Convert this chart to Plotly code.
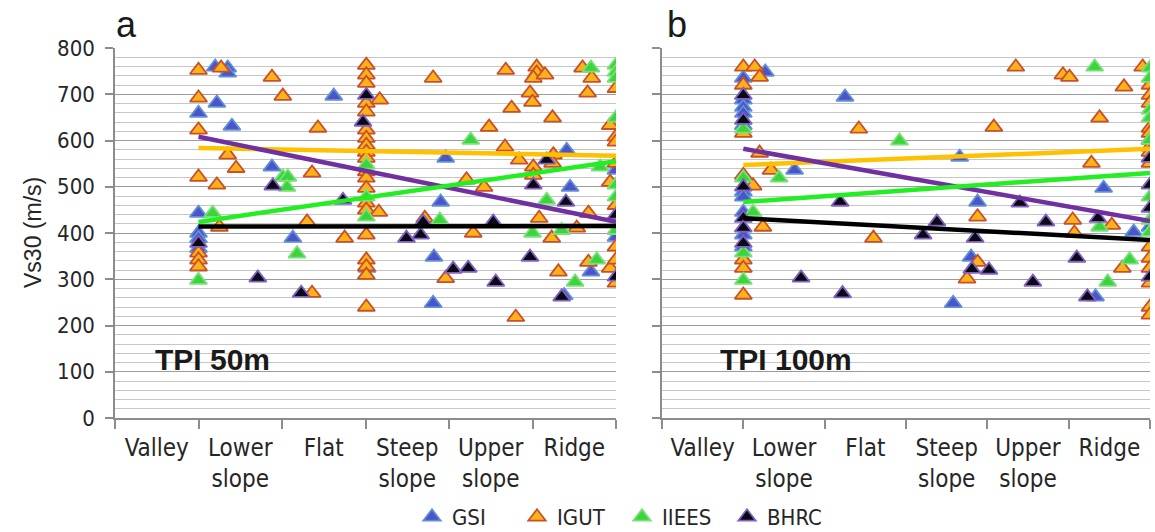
import plotly.graph_objects as go

# ---------------- data ----------------
series_names = ["GSI", "IGUT", "IIEES", "BHRC"]
categories = ["Valley", "Lower<br>slope", "Flat", "Steep<br>slope", "Upper<br>slope", "Ridge"]
category_pos = [0.5, 1.5, 2.5, 3.5, 4.5, 5.5]
y_ticks = [0, 100, 200, 300, 400, 500, 600, 700, 800]

a_gsi = [(1.2, 759), (1.35, 757), (1.35, 746), (1.22, 681), (1.0, 659), (1.40, 631), (1.88, 543),
         (1.0, 443), (2.13, 389), (1.0, 400), (1.0, 388), (1.0, 367), (2.62, 696), (3.96, 562),
         (3.90, 467), (3.82, 348), (3.81, 248), (3.02, 324), (5.41, 579), (5.45, 499), (6.0, 536),
         (6.0, 391), (5.70, 316), (5.38, 265)]
a_igut = [(1.0, 752), (1.27, 757), (1.88, 737), (1.0, 692), (2.01, 696), (1.0, 623), (1.35, 569),
          (1.45, 540), (1.0, 521), (1.22, 504), (1.25, 413), (1.0, 357), (1.0, 342), (1.0, 327),
          (2.36, 270), (2.43, 627), (2.36, 530), (2.30, 424), (2.75, 389),
          (3.01, 763), (3.01, 742), (3.01, 724), (3.01, 681), (3.01, 662), (3.01, 623), (3.01, 605),
          (3.01, 590), (3.01, 575), (3.01, 562), (3.01, 533), (3.01, 519), (3.01, 497), (3.01, 465),
          (3.01, 450), (3.01, 396), (3.01, 342), (3.01, 327), (3.01, 309), (3.01, 240),
          (3.17, 688), (3.81, 735), (3.16, 445), (3.71, 432), (3.96, 302), (4.29, 400), (4.80, 218),
          (5.31, 316), (5.67, 337), (5.93, 324),
          (4.68, 752), (5.05, 759), (5.05, 746), (5.01, 735), (5.15, 742), (5.60, 757), (5.71, 735),
          (6.0, 713), (4.97, 703), (5.0, 683), (5.66, 703), (4.75, 670), (5.24, 649), (5.93, 633),
          (6.0, 608), (6.0, 597), (4.67, 586), (4.84, 558), (5.25, 569), (5.24, 551), (5.01, 543),
          (6.0, 551), (5.01, 525), (5.93, 510), (6.0, 460), (5.67, 443), (5.08, 432), (5.23, 389),
          (5.53, 411), (6.0, 370), (6.0, 342), (6.0, 292), (4.48, 629), (4.21, 515), (4.42, 499)]
a_iiees = [(2.01, 521), (2.07, 521), (2.06, 499), (1.17, 443), (2.18, 355), (1.0, 298), (3.01, 547),
           (3.01, 478), (3.01, 435), (3.89, 428), (4.26, 601), (5.70, 757), (6.0, 763), (6.0, 748),
           (6.0, 735), (6.0, 649), (5.81, 543), (6.0, 504), (5.17, 471), (6.0, 478), (6.0, 406),
           (5.0, 400), (5.35, 406), (5.77, 342), (5.51, 294)]
a_bhrc = [(1.89, 502), (1.0, 378), (1.71, 303), (2.23, 270), (2.73, 471), (3.01, 698), (2.97, 640),
          (3.69, 424), (3.49, 389), (3.66, 396), (4.05, 322), (4.23, 324), (4.56, 294), (4.53, 424),
          (4.97, 348), (5.17, 558), (5.01, 504), (5.40, 467), (6.0, 439), (6.0, 305), (5.35, 262)]

b_gsi = [(1.27, 748), (1.0, 735), (1.0, 688), (1.0, 672), (1.0, 659), (1.0, 633), (1.0, 489),
         (1.0, 478), (1.0, 445), (1.0, 396), (1.0, 370), (1.63, 536), (2.25, 694), (3.66, 564),
         (3.88, 467), (3.80, 348), (3.58, 248), (5.43, 497), (5.80, 402), (5.33, 262), (6.0, 413)]
b_igut = [(1.0, 759), (1.14, 759), (1.2, 737), (1.0, 720), (1.0, 616), (1.2, 573), (1.34, 536),
          (1.0, 525), (1.12, 502), (1.24, 413), (1.0, 342), (1.0, 324), (1.0, 266), (2.42, 625),
          (2.60, 389), (3.88, 337), (3.75, 301), (3.88, 435), (4.35, 759), (4.93, 742), (5.01, 737),
          (5.68, 716), (5.91, 759), (4.08, 629), (5.38, 649), (5.28, 551), (5.05, 428), (5.53, 417),
          (5.07, 400), (5.66, 324), (6.0, 720), (6.0, 698), (6.0, 681), (6.0, 627), (6.0, 616),
          (6.0, 601), (6.0, 586), (6.0, 575), (6.0, 551), (6.0, 370), (6.0, 346), (6.0, 324),
          (6.0, 292), (6.0, 240), (6.0, 223)]
b_iiees = [(1.0, 625), (1.44, 519), (1.0, 519), (1.12, 445), (1.0, 357), (1.0, 298), (2.92, 599),
           (5.32, 759), (5.38, 413), (5.75, 342), (5.48, 294), (6.0, 757), (6.0, 735), (6.0, 666),
           (6.0, 649), (6.0, 601), (6.0, 478), (6.0, 428), (6.0, 402)]
b_bhrc = [(1.0, 698), (1.0, 644), (1.0, 500), (1.0, 432), (1.0, 411), (1.0, 378), (1.71, 303),
          (2.19, 467), (2.22, 269), (3.21, 396), (3.38, 424), (3.85, 389), (3.81, 322), (4.02, 320),
          (4.56, 294), (4.40, 465), (4.72, 424), (5.36, 432), (5.10, 346), (5.23, 262), (6.0, 562),
          (6.0, 504), (6.0, 454), (6.0, 305)]

trend_x = [1, 6]
trend_a_gsi = [608, 424]
trend_a_igut = [584, 567]
trend_a_iiees = [424, 555]
trend_a_bhrc = [414, 415]
trend_b_gsi = [582, 426]
trend_b_igut = [547, 582]
trend_b_iiees = [467, 530]
trend_b_bhrc = [432, 385]

panel_labels = ["a", "b"]
panel_titles = ["TPI 50m", "TPI 100m"]

# ---------------- styles ----------------
marker_fill = {"GSI": "#4B55C8", "IGUT": "#FDB21A", "IIEES": "#3CD43C", "BHRC": "#0A0A14"}
marker_edge = {"GSI": "#5F8FD8", "IGUT": "#C8502A", "IIEES": "#78E078", "BHRC": "#8060C0"}
trend_color = {"GSI": "#7030A0", "IGUT": "#FFC000", "IIEES": "#22EE22", "BHRC": "#000000"}

NARROW = "Liberation Sans Narrow, Arial Narrow, DejaVu Sans Condensed, sans-serif"
REG = "Liberation Sans, Arial, sans-serif"

fig = go.Figure()

panels = [
    ("x", "y", {"GSI": a_gsi, "IGUT": a_igut, "IIEES": a_iiees, "BHRC": a_bhrc},
     {"GSI": trend_a_gsi, "IGUT": trend_a_igut, "IIEES": trend_a_iiees, "BHRC": trend_a_bhrc}, True),
    ("x2", "y2", {"GSI": b_gsi, "IGUT": b_igut, "IIEES": b_iiees, "BHRC": b_bhrc},
     {"GSI": trend_b_gsi, "IGUT": trend_b_igut, "IIEES": trend_b_iiees, "BHRC": trend_b_bhrc}, False),
]

for xa, ya, pts, trends, show in panels:
    for name in series_names:
        xs = [p[0] for p in pts[name]]
        ys = [p[1] for p in pts[name]]
        fig.add_trace(go.Scatter(
            x=xs, y=ys, mode="markers", name=name, xaxis=xa, yaxis=ya,
            showlegend=show, legendgroup=name,
            marker=dict(symbol="triangle-up", size=15, color=marker_fill[name],
                        line=dict(color=marker_edge[name], width=1.8)),
        ))
    for name in ["IGUT", "GSI", "IIEES", "BHRC"]:
        fig.add_trace(go.Scatter(
            x=trend_x, y=trends[name], mode="lines", xaxis=xa, yaxis=ya,
            showlegend=False, hoverinfo="skip",
            line=dict(color=trend_color[name], width=4.5),
        ))

W, H = 1155, 532
xa_dom = [115 / W, 616 / W]
xb_dom = [662 / W, 1150 / W]
y_dom = [1 - 418 / H, 1 - 48 / H]

def xaxis_cfg(dom, anchor):
    return dict(
        domain=dom, range=[0, 6], anchor=anchor, showgrid=False, zeroline=False,
        showline=True, linecolor="#8c8c8c", linewidth=1.5,
        tickmode="array", tickvals=category_pos, ticktext=categories, ticks="",
        ticklabelstandoff=7,
        tickfont=dict(family=NARROW, size=24, color="#262626"),
        minor=dict(tickmode="linear", tick0=0, dtick=1, ticks="outside", ticklen=9,
                   tickcolor="#8c8c8c", tickwidth=1.5, showgrid=False),
        fixedrange=True, automargin=False,
    )

def yaxis_cfg(anchor, labels):
    return dict(
        domain=y_dom, range=[0, 800], anchor=anchor,
        tickmode="array", tickvals=y_ticks, showticklabels=labels,
        ticks="outside", ticklen=8, tickcolor="#8c8c8c", tickwidth=1.5,
        ticklabelstandoff=6,
        tickfont=dict(family=NARROW, size=22, color="#262626"),
        showgrid=True, gridcolor="#9c9c9c", gridwidth=1.3,
        minor=dict(tickmode="linear", tick0=0, dtick=20, showgrid=True,
                   gridcolor="#c6c6c6", gridwidth=1, ticks=""),
        showline=True, linecolor="#8c8c8c", linewidth=1.5, zeroline=False,
        fixedrange=True, automargin=False,
    )

annotations = [
    dict(text="Vs30 (m/s)", x=33 / W, y=1 - 233 / H, xref="paper", yref="paper",
         textangle=-90, showarrow=False, font=dict(family=REG, size=23, color="#262626"),
         xanchor="center", yanchor="middle"),
    dict(text=panel_labels[0], x=126 / W, y=1 - 25 / H, xref="paper", yref="paper",
         showarrow=False, font=dict(family=REG, size=36, color="#1a1a1a"),
         xanchor="center", yanchor="middle"),
    dict(text=panel_labels[1], x=677 / W, y=1 - 25 / H, xref="paper", yref="paper",
         showarrow=False, font=dict(family=REG, size=36, color="#1a1a1a"),
         xanchor="center", yanchor="middle"),
    dict(text="<b>" + panel_titles[0] + "</b>", x=153 / W, y=1 - 359 / H, xref="paper", yref="paper",
         showarrow=False, font=dict(family=REG, size=30, color="#1a1a1a"),
         xanchor="left", yanchor="middle"),
    dict(text="<b>" + panel_titles[1] + "</b>", x=718 / W, y=1 - 359 / H, xref="paper", yref="paper",
         showarrow=False, font=dict(family=REG, size=30, color="#1a1a1a"),
         xanchor="left", yanchor="middle"),
]

fig.update_layout(
    width=W, height=H, margin=dict(l=0, r=0, t=0, b=0, autoexpand=False),
    paper_bgcolor="white", plot_bgcolor="white",
    xaxis=xaxis_cfg(xa_dom, "y"), yaxis=yaxis_cfg("x", True),
    xaxis2=xaxis_cfg(xb_dom, "y2"), yaxis2=yaxis_cfg("x2", False),
    annotations=annotations,
    showlegend=True,
    legend=dict(orientation="h", x=412 / W, xanchor="left", y=15 / H, yanchor="middle",
                xref="container", yref="container",
                font=dict(family=NARROW, size=22, color="#262626"),
                bgcolor="rgba(0,0,0,0)", itemwidth=30, tracegroupgap=0,
                entrywidth=60, entrywidthmode="pixels"),
)

fig.write_html("out.html")
